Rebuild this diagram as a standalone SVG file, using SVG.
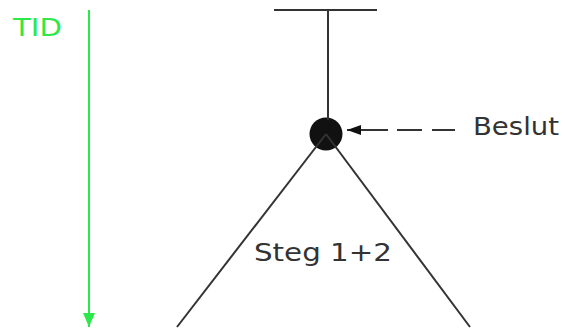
<svg xmlns="http://www.w3.org/2000/svg" width="565" height="328" viewBox="0 0 565 328">
<style>
.t{font-family:"DejaVu Sans",Verdana,sans-serif;font-size:24px;fill:#333}
.ln{stroke:#333;stroke-width:2;fill:none}
</style>
<defs>
<marker id="ah" viewBox="0 0 14 10" refX="14" refY="5" markerWidth="14" markerHeight="10" markerUnits="userSpaceOnUse" orient="auto">
<path d="M0 0 L14 5 L0 10 Z" fill="#111"/>
</marker>
<marker id="gh" viewBox="0 0 14 12" refX="14" refY="6" markerWidth="14" markerHeight="12" markerUnits="userSpaceOnUse" orient="auto">
<path d="M0 0 L14 6 L0 12 Z" fill="#2de84a"/>
</marker>
</defs>
<g id="time">
<line x1="89" y1="10" x2="89" y2="327" stroke="#2de84a" stroke-width="2" marker-end="url(#gh)"/>
<text x="13" y="36" textLength="49" lengthAdjust="spacingAndGlyphs" class="t" style="fill:#2de84a">TID</text>
</g>
<g id="start">
<line class="ln" x1="274" y1="10" x2="377" y2="10"/>
</g>
<g id="decision">
<circle cx="326" cy="134" r="16.5" fill="#111"/>
</g>
<g id="beslut">
<text x="473" y="135" textLength="86" lengthAdjust="spacingAndGlyphs" class="t">Beslut</text>
</g>
<g id="steg">
<text x="254" y="261" textLength="138" lengthAdjust="spacingAndGlyphs" class="t">Steg 1+2</text>
</g>
<g id="connectors">
<line class="ln" x1="328" y1="10" x2="328" y2="120"/>
<line class="ln" x1="326" y1="134" x2="177" y2="327"/>
<line class="ln" x1="326" y1="134" x2="470" y2="327"/>
<path class="ln" d="M455 130 H432 M422 130 H397 M388 130 H347" marker-end="url(#ah)"/>
</g>
</svg>
